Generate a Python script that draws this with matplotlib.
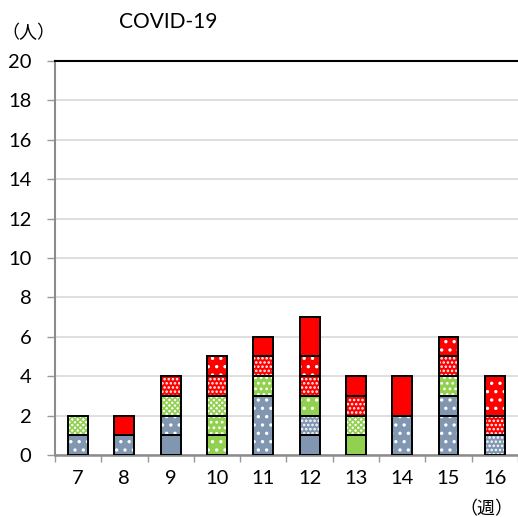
import matplotlib.pyplot as plt
import numpy as np

plt.rcParams['font.family'] = ['Lato', 'Noto Sans CJK JP', 'DejaVu Sans']
plt.rcParams['hatch.linewidth'] = 1.2

weeks = [7, 8, 9, 10, 11, 12, 13, 14, 15, 16]

# one list per block style, stacked bottom to top
blue_solid   = [0, 0, 1, 0, 0, 1, 0, 0, 0, 0]
blue_dense   = [0, 0, 0, 0, 0, 1, 0, 0, 0, 1]
blue_sparse  = [1, 1, 1, 0, 3, 0, 0, 2, 2, 0]
blue_sparse2 = [0, 0, 0, 0, 0, 0, 0, 0, 1, 0]
green_solid  = [0, 0, 0, 0, 0, 0, 1, 0, 0, 0]
green_sparse = [0, 0, 0, 1, 0, 1, 0, 0, 0, 0]
green_medium = [0, 0, 0, 1, 1, 0, 0, 0, 1, 0]
green_check  = [1, 0, 1, 1, 0, 0, 1, 0, 0, 0]
red_dense    = [0, 0, 1, 1, 1, 1, 1, 0, 1, 1]
red_sparse   = [0, 0, 0, 1, 0, 1, 0, 0, 1, 2]
red_solid    = [0, 1, 0, 0, 1, 2, 1, 2, 0, 0]

BLUE = '#8096B1'
GREEN = '#92D050'
RED = '#FF0000'

series = [
    (blue_solid, BLUE, None, 'white'),
    (blue_dense, BLUE, '....', 'white'),
    (blue_sparse, BLUE, '..', 'white'),
    (blue_sparse2, BLUE, '..', 'white'),
    (green_solid, GREEN, None, 'white'),
    (green_sparse, GREEN, '..', 'white'),
    (green_medium, GREEN, '...', 'white'),
    (green_check, 'white', 'xxxxxx', GREEN),
    (red_dense, RED, '....', 'white'),
    (red_sparse, RED, '..', 'white'),
    (red_solid, RED, None, 'white'),
]

fig = plt.figure(figsize=(5.18, 5.17), dpi=100)
ax = fig.add_axes([0.106, 0.12, 0.894, 0.762])

x = np.array(weeks)
bottom = np.zeros(len(weeks))
w = 0.43
for vals, fc, hatch, hc in series:
    vals = np.array(vals, dtype=float)
    m = vals > 0
    if m.any():
        ax.bar(x[m], vals[m], w, bottom=bottom[m], color=fc, hatch=hatch,
               edgecolor=hc, linewidth=0, zorder=3)
        ax.bar(x[m], vals[m], w, bottom=bottom[m], fill=False,
               edgecolor='black', linewidth=1.4, zorder=4)
    bottom += vals

ax.set_xlim(6.5, 16.5)
ax.set_ylim(0, 20)
ax.set_yticks(range(0, 21, 2))
ax.set_xticks(weeks)
ax.set_xticks(np.arange(6.5, 16.6, 1), minor=True)
ax.tick_params(axis='x', which='major', length=0, labelsize=14.5, pad=11)
ax.tick_params(axis='x', which='minor', length=5, color='#999999', width=1)
ax.tick_params(axis='y', length=6, color='#999999', width=1, labelsize=14.5, pad=11)
ax.yaxis.grid(True, color='#D9D9D9', linewidth=1.2, zorder=0)
ax.set_axisbelow(True)

ax.spines['right'].set_visible(False)
ax.spines['top'].set_color('black')
ax.spines['top'].set_linewidth(1.5)
ax.spines['left'].set_color('#8C8C8C')
ax.spines['left'].set_linewidth(1.5)
ax.spines['bottom'].set_color('#8C8C8C')
ax.spines['bottom'].set_linewidth(1.8)

fig.text(0.325, 0.957, 'COVID-19', fontsize=15, ha='center', va='center')
fig.text(0.002, 0.937, '（人）', fontsize=13, ha='left', va='center')
fig.text(0.94, 0.016, '（週）', fontsize=13, ha='center', va='center')

fig.savefig('out.png', dpi=100)
